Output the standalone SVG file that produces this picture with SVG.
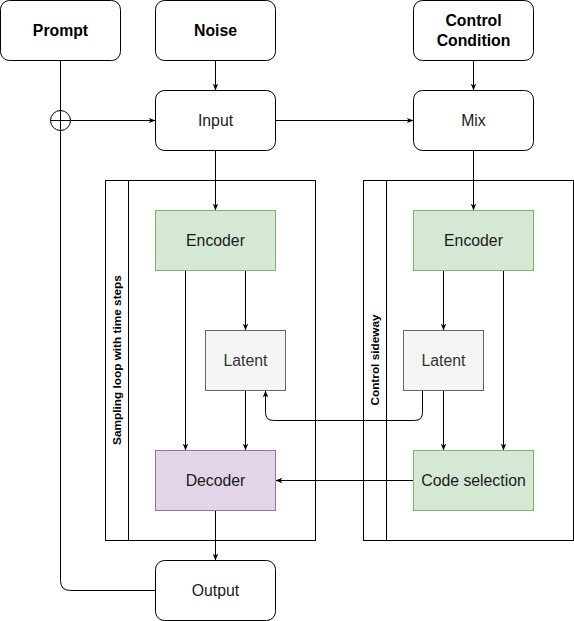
<svg xmlns="http://www.w3.org/2000/svg" width="574" height="621" viewBox="0 0 574 621">
<defs>
<marker id="arr" viewBox="0 0 10 10" refX="10" refY="5" markerWidth="7" markerHeight="7" orient="auto" markerUnits="userSpaceOnUse">
<path d="M0,1 L10,5 L0,9 L3,5 Z" fill="#000"/>
</marker>
<style>
.rb{fill:#fff;stroke:#000;stroke-width:1}
.t{font-family:"Liberation Sans",Arial,sans-serif;font-size:15.8px;text-anchor:middle;dominant-baseline:central;fill:#1a1a1a}
.b{font-weight:bold;fill:#000}
.c{fill:none;stroke:#000;stroke-width:1}
.lane{fill:#fff;stroke:#000;stroke-width:1}
.lt{font-family:"Liberation Sans",Arial,sans-serif;font-size:11.8px;font-weight:bold;text-anchor:middle;dominant-baseline:central;fill:#000}
.green{fill:#d5e8d4;stroke:#82b366}
.gray{fill:#f5f5f5;stroke:#666}
.purple{fill:#e1d5e7;stroke:#9673a6}
</style>
</defs>
<g id="lane-sampling">
<rect class="lane" x="105.5" y="180.5" width="210" height="360"/>
<line class="c" x1="128.5" y1="180.5" x2="128.5" y2="540.5"/>
<text class="lt" transform="translate(117,360) rotate(-90)">Sampling loop with time steps</text>
</g>
<g id="lane-control">
<rect class="lane" x="363.5" y="180.5" width="210" height="360"/>
<line class="c" x1="386.5" y1="180.5" x2="386.5" y2="540.5"/>
<text class="lt" transform="translate(375,360) rotate(-90)">Control sideway</text>
</g>
<g id="connectors">
<path class="c" d="M60.5,60.5 V580.5 Q60.5,590.5 70.5,590.5 H155.5"/>
<path class="c" d="M70.5,120.5 H155.5" marker-end="url(#arr)"/>
<path class="c" d="M215.5,60.5 V90.5" marker-end="url(#arr)"/>
<path class="c" d="M473.5,60.5 V90.5" marker-end="url(#arr)"/>
<path class="c" d="M275.5,120.5 H413.5" marker-end="url(#arr)"/>
<path class="c" d="M215.5,150.5 V210.5" marker-end="url(#arr)"/>
<path class="c" d="M473.5,150.5 V210.5" marker-end="url(#arr)"/>
<path class="c" d="M185.5,270.5 V450.5" marker-end="url(#arr)"/>
<path class="c" d="M245.5,270.5 V330.5" marker-end="url(#arr)"/>
<path class="c" d="M245.5,390.5 V450.5" marker-end="url(#arr)"/>
<path class="c" d="M443.5,270.5 V330.5" marker-end="url(#arr)"/>
<path class="c" d="M443.5,390.5 V450.5" marker-end="url(#arr)"/>
<path class="c" d="M503.5,270.5 V450.5" marker-end="url(#arr)"/>
<path class="c" d="M422.5,390.5 V412.5 Q422.5,420.5 414.5,420.5 H273.5 Q265.5,420.5 265.5,412.5 V390.5" marker-end="url(#arr)"/>
<path class="c" d="M413.5,480.5 H275.5" marker-end="url(#arr)"/>
<path class="c" d="M215.5,510.5 V560.5" marker-end="url(#arr)"/>
</g>
<g id="sum">
<circle cx="60.5" cy="120.5" r="10" fill="#fff" stroke="#000"/>
<path class="c" d="M50.5,120.5 H70.5 M60.5,110.5 V130.5"/>
</g>
<g id="prompt"><rect class="rb" x="0.5" y="0.5" width="120" height="60" rx="9"/><text class="t b" x="60.5" y="30.5">Prompt</text></g>
<g id="noise"><rect class="rb" x="155.5" y="0.5" width="120" height="60" rx="9"/><text class="t b" x="215.5" y="30.5">Noise</text></g>
<g id="control-condition"><rect class="rb" x="413.5" y="0.5" width="120" height="60" rx="9"/><text class="t b" x="473.5" y="20.5">Control</text><text class="t b" x="473.5" y="40.5">Condition</text></g>
<g id="input"><rect class="rb" x="155.5" y="90.5" width="120" height="60" rx="9"/><text class="t" x="215.5" y="120.5">Input</text></g>
<g id="mix"><rect class="rb" x="413.5" y="90.5" width="120" height="60" rx="9"/><text class="t" x="473.5" y="120.5">Mix</text></g>
<g id="encoder-left"><rect class="green" x="155.5" y="210.5" width="120" height="60"/><text class="t" x="215.5" y="240.5">Encoder</text></g>
<g id="latent-left"><rect class="gray" x="205.5" y="330.5" width="80" height="60"/><text class="t" x="245.5" y="360.5" style="fill:#333">Latent</text></g>
<g id="decoder"><rect class="purple" x="155.5" y="450.5" width="120" height="60"/><text class="t" x="215.5" y="480.5">Decoder</text></g>
<g id="encoder-right"><rect class="green" x="413.5" y="210.5" width="120" height="60"/><text class="t" x="473.5" y="240.5">Encoder</text></g>
<g id="latent-right"><rect class="gray" x="403.5" y="330.5" width="80" height="60"/><text class="t" x="443.5" y="360.5" style="fill:#333">Latent</text></g>
<g id="code-selection"><rect class="green" x="413.5" y="450.5" width="120" height="60"/><text class="t" x="473.5" y="480.5">Code selection</text></g>
<g id="output"><rect class="rb" x="155.5" y="560.5" width="120" height="60" rx="9"/><text class="t" x="215.5" y="590.5">Output</text></g>
</svg>
